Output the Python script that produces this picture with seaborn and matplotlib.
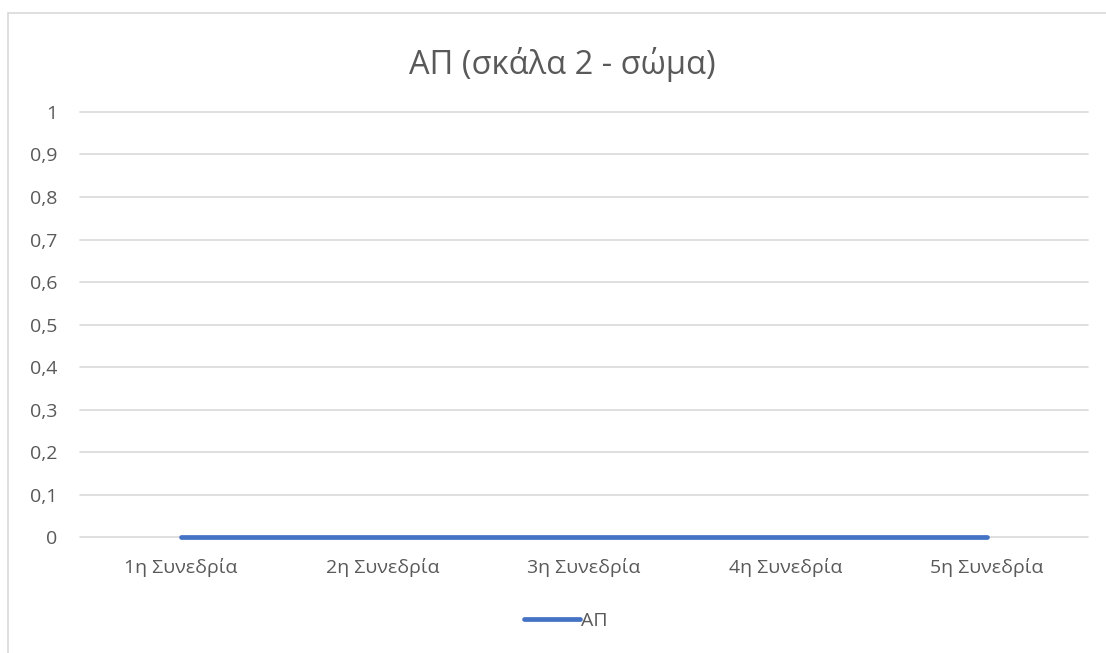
import matplotlib
matplotlib.use("Agg")
import matplotlib.pyplot as plt
import matplotlib.lines as mlines
import seaborn as sns
import pandas as pd

sessions = ["1η Συνεδρία", "2η Συνεδρία", "3η Συνεδρία", "4η Συνεδρία", "5η Συνεδρία"]
ap_values = [0, 0, 0, 0, 0]
series_name = "ΑΠ"
y_ticks = [0, 0.1, 0.2, 0.3, 0.4, 0.5, 0.6, 0.7, 0.8, 0.9, 1]
y_tick_labels = ["0", "0,1", "0,2", "0,3", "0,4", "0,5", "0,6", "0,7", "0,8", "0,9", "1"]

df = pd.DataFrame({"session": sessions, "value": ap_values, "series": series_name})
df["pos"] = range(len(sessions))

sns.set_theme(style="white")
plt.rcParams["font.family"] = ["Open Sans", "DejaVu Sans"]

fig = plt.figure(figsize=(11.06, 6.53), dpi=100)
ax = fig.add_axes([0.0723, 0.1776, 0.9114, 0.6509])

line_color = "#4472C4"
grid_color = "#D9D9D9"
text_color = "#595959"

sns.lineplot(data=df, x="pos", y="value", ax=ax, color=line_color,
             linewidth=3.4, solid_capstyle="round", legend=False, zorder=3)
for ln in ax.lines:
    ln.set_clip_on(False)

ax.set_xlim(-0.5, len(sessions) - 0.5)
ax.set_ylim(0, 1)
ax.set_yticks(y_ticks)
ax.set_yticklabels(y_tick_labels)
ax.set_xticks(range(len(sessions)))
ax.set_xticklabels(sessions)
ax.set_xlabel("")
ax.set_ylabel("")
ax.tick_params(axis="both", length=0, labelsize=14, labelcolor=text_color)
ax.tick_params(axis="y", pad=16)
ax.tick_params(axis="x", pad=15)
ax.yaxis.grid(True, color=grid_color, linewidth=1.2, clip_on=False)
ax.set_axisbelow(True)
for s in ax.spines.values():
    s.set_visible(False)

fig.text(562 / 1106, 1 - 64 / 653, "ΑΠ (σκάλα 2 - σώμα)", ha="center", va="center",
         fontsize=23.5, color=text_color)

# chart frame
fig.add_artist(mlines.Line2D([8 / 1106, 8 / 1106], [0, 1 - 13 / 653],
                             transform=fig.transFigure, color=grid_color, linewidth=1.2))
fig.add_artist(mlines.Line2D([8 / 1106, 1], [1 - 13 / 653, 1 - 13 / 653],
                             transform=fig.transFigure, color=grid_color, linewidth=1.2))

handle = mlines.Line2D([], [], color=line_color, linewidth=3.4, solid_capstyle="round")
fig.legend([handle], [series_name], loc="center", bbox_to_anchor=(566 / 1106, 1 - 621 / 653),
           frameon=False, fontsize=14, labelcolor=text_color,
           handlelength=2.9, handletextpad=0.05)

fig.savefig("out.png", dpi=100)
